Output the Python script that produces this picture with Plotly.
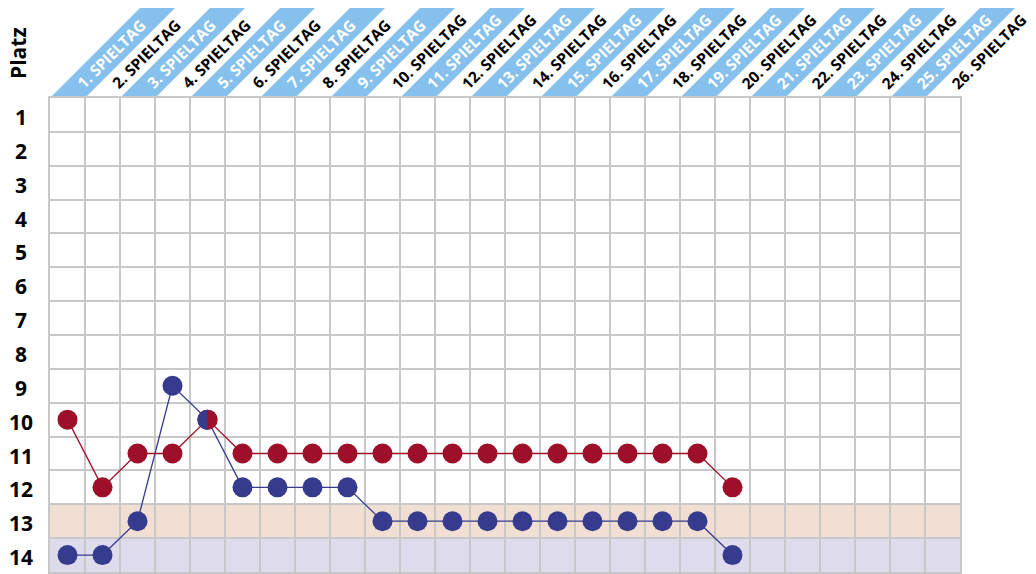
"""Tabellenplatz je Spieltag – zwei Mannschaften im Verlauf."""
import plotly.graph_objects as go

# ---- Data -----------------------------------------------------------
SPIELTAGE = [f"{i}. SPIELTAG" for i in range(1, 27)]
PLAETZE = list(range(1, 15))

ROT_PLATZ = [10, 12, 11, 11, 10, 11, 11, 11, 11, 11, 11, 11, 11, 11, 11,
             11, 11, 11, 11, 12]
BLAU_PLATZ = [14, 14, 13, 9, 10, 12, 12, 12, 12, 13, 13, 13, 13, 13, 13,
              13, 13, 13, 13, 14]

# rows shaded at the bottom of the table
ZONEN = {13: "#f0dfd2", 14: "#dedbec"}

# ---- Theme tokens ---------------------------------------------------
ROT = "#9e1029"
BLAU = "#363b8e"
HEADER_BLAU = "#86c0ec"
GRID = "#c8c8c8"
FONT = "Open Sans, Liberation Sans Narrow, DejaVu Sans Condensed, sans-serif"

# page body has an 8px margin, so the figure is a bit smaller than the window
W, H = 1028, 566
L, R, T, B = 42, 76, 90, 2
PLOT_W = W - L - R
N_COL = len(SPIELTAGE)
BAND_H = 93           # header stripe height in px (45 degrees)
MARKER = 20

fig = go.Figure()

fig.add_trace(go.Scatter(
    x=list(range(1, len(BLAU_PLATZ) + 1)), y=BLAU_PLATZ,
    mode="lines+markers", name="Blau",
    line=dict(color=BLAU, width=1.3),
    marker=dict(color=BLAU, size=MARKER),
    hoverinfo="skip",
))
fig.add_trace(go.Scatter(
    x=list(range(1, len(ROT_PLATZ) + 1)), y=ROT_PLATZ,
    mode="lines+markers", name="Rot",
    line=dict(color=ROT, width=1.3),
    marker=dict(color=ROT, size=MARKER),
    hoverinfo="skip",
))

shapes = []
# shaded rows
for platz, farbe in ZONEN.items():
    shapes.append(dict(type="rect", xref="paper", yref="y", x0=0, x1=1,
                       y0=platz - 0.5, y1=platz + 0.5, fillcolor=farbe,
                       line=dict(width=0), layer="below"))

# where both teams share a place: blue left half over the red marker
r = MARKER / 2
k = 0.5523 * r
half = (f"M 0 {r} C {-k} {r} {-r} {k} {-r} 0 "
        f"C {-r} {-k} {-k} {-r} 0 {-r} Z")
for i, (a, b) in enumerate(zip(ROT_PLATZ, BLAU_PLATZ), start=1):
    if a == b:
        shapes.append(dict(
            type="path", xref="x", yref="y",
            xsizemode="pixel", ysizemode="pixel", xanchor=i, yanchor=a,
            path=half, fillcolor=BLAU, line=dict(width=0), layer="above"))

# diagonal header stripes, every other Spieltag
shift = BAND_H / PLOT_W
for i in range(1, N_COL + 1, 2):
    x0 = (i - 1) / N_COL
    x1 = i / N_COL
    shapes.append(dict(
        type="path", xref="paper", yref="paper",
        ysizemode="pixel", yanchor=1,
        path=(f"M {x0} 0 L {x1} 0 L {x1 + shift} {BAND_H} "
              f"L {x0 + shift} {BAND_H} Z"),
        fillcolor=HEADER_BLAU, line=dict(width=0), layer="below"))

annotations = []
for i, label in enumerate(SPIELTAGE, start=1):
    # rotated box: its left/bottom corner sits on the stripe's centre line
    annotations.append(dict(
        x=i, y=1, xref="x", yref="paper", text=label,
        xanchor="left", yanchor="bottom", textangle=-45, showarrow=False,
        xshift=3, yshift=3, borderpad=0,
        font=dict(family=FONT, size=15.5, weight="bold",
                  color="white" if i % 2 else "black"),
    ))
for p in PLAETZE:
    annotations.append(dict(
        x=-29 / PLOT_W, y=p, xref="paper", yref="y", text=str(p),
        xanchor="center", yanchor="middle", showarrow=False, yshift=-2,
        font=dict(family=FONT, size=21, weight="bold", color="black"),
    ))
annotations.append(dict(
    x=-32 / PLOT_W, y=1, xref="paper", yref="paper", text="Platz",
    xanchor="center", yanchor="bottom", textangle=-90, showarrow=False,
    yshift=18, borderpad=0,
    font=dict(family=FONT, size=21, weight="bold", color="black"),
))

fig.update_layout(
    width=W, height=H,
    margin=dict(l=L, r=R, t=T, b=B),
    paper_bgcolor="white", plot_bgcolor="white",
    showlegend=False,
    shapes=shapes, annotations=annotations,
    font=dict(family=FONT),
)
fig.update_xaxes(
    range=[0.5, N_COL + 0.5], tick0=0.5, dtick=1,
    showticklabels=False, ticks="",
    showgrid=True, gridcolor=GRID, gridwidth=1.5,
    showline=True, linecolor=GRID, linewidth=1.5, mirror=True,
    zeroline=False, fixedrange=True,
)
fig.update_yaxes(
    range=[len(PLAETZE) + 0.5, 0.5], tick0=0.5, dtick=1,
    showticklabels=False, ticks="",
    showgrid=True, gridcolor=GRID, gridwidth=1.5,
    showline=True, linecolor=GRID, linewidth=1.5, mirror=True,
    zeroline=False, fixedrange=True,
)

fig.write_html("out.html")
